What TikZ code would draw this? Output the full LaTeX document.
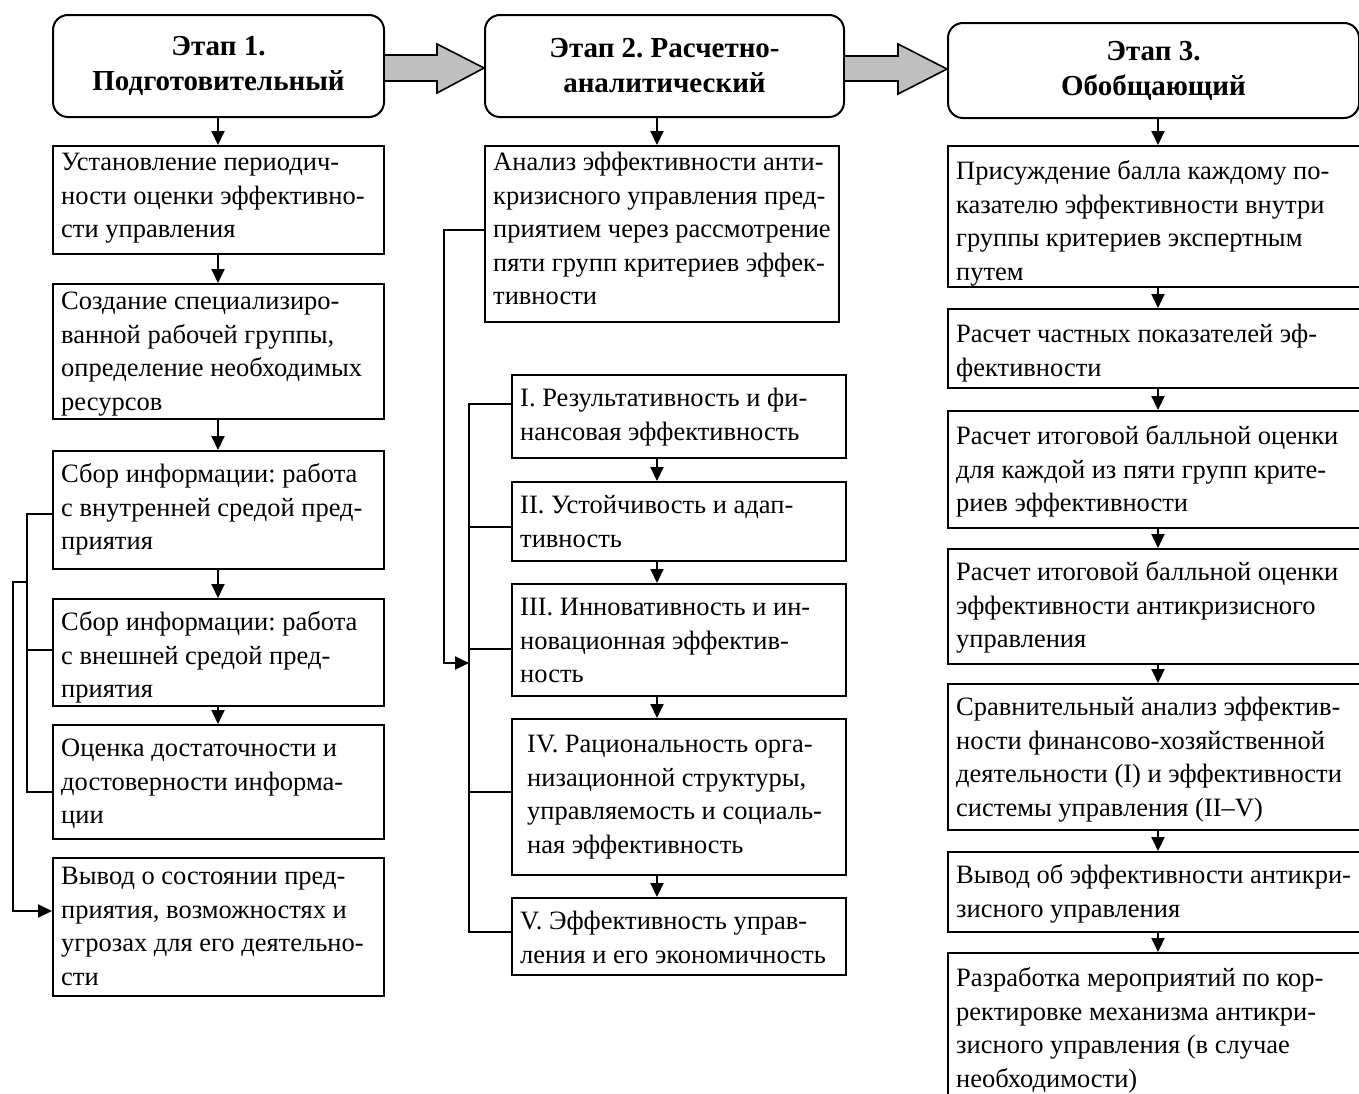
\documentclass[tikz,border=0pt]{standalone}
\usepackage{fontspec}
\setmainfont{Liberation Serif}
\usetikzlibrary{arrows.meta}
\frenchspacing

\tikzset{
  stepbox/.style={draw, line width=2pt, anchor=north west, inner sep=0pt},
  steptext/.style={anchor=north west, inner sep=0pt, align=left, xshift=9pt, yshift=-9pt,
    font=\fontsize{26.5}{33.5}\selectfont},
  stagebox/.style={draw, line width=2pt, rounded corners=15pt, anchor=north west,
    inner sep=0pt, align=center, font=\bfseries\fontsize{29}{35}\selectfont},
  arr/.style={line width=2pt, -{Triangle[length=14pt,width=13pt]}},
  link/.style={line width=2pt},
  blockarrow/.style={draw, line width=1.6pt, fill=gray!50, line join=miter}
}

\newcommand{\stepnode}[6][]{%
  \node[stepbox, minimum width=#4pt, minimum height=#5pt] (#2) at (#3) {};
  \node[steptext, #1] (#2txt) at (#2.north west) {\strut #6};
}

\begin{document}
\begin{tikzpicture}[x=1pt,y=1pt]
  \useasboundingbox (0,0) rectangle (1359,-1093);
  \clip (0,0) rectangle (1359,-1093);

  \node[stagebox, minimum width=331pt, minimum height=102pt] (h1) at (52,-14)
    {Этап 1.\\Подготовительный};
  \node[stagebox, minimum width=359pt, minimum height=102pt] (h2) at (484,-14)
    {Этап 2. Расчетно-\\аналитический};
  \node[stagebox, minimum width=411pt, minimum height=95pt] (h3) at (947,-22)
    {Этап 3.\\Обобщающий};

  \stepnode[yshift=7pt]{a1}{52,-145}{331}{108}{Установление периодич-\\ности оценки эффективно-\\сти управления}
  \stepnode[yshift=6pt]{a2}{52,-283}{331}{135}{Создание специализиро-\\ванной рабочей группы,\\определение необходимых\\ресурсов}
  \stepnode{a3}{52,-450}{331}{118}{Сбор информации: работа\\с внутренней средой пред-\\приятия}
  \stepnode{a4}{52,-598}{331}{107}{Сбор информации: работа\\с внешней средой пред-\\приятия}
  \stepnode{a5}{52,-724}{331}{114}{Оценка достаточности и\\достоверности информа-\\ции}
  \stepnode[yshift=5pt]{a6}{52,-857}{331}{138}{Вывод о состоянии пред-\\приятия, возможностях и\\угрозах для его деятельно-\\сти}

  \stepnode[yshift=7pt]{b1}{484,-145}{354}{176}{Анализ эффективности анти-\\кризисного управления пред-\\приятием через рассмотрение\\пяти групп критериев эффек-\\тивности}
  \stepnode{c1}{511,-374}{334}{83}{I. Результативность и фи-\\нансовая эффективность}
  \stepnode{c2}{511,-481}{334}{79}{II. Устойчивость и адап-\\тивность}
  \stepnode{c3}{511,-583}{334}{112}{III. Инновативность и ин-\\новационная эффектив-\\ность}
  \stepnode[xshift=7pt, yshift=-2pt]{c4}{511,-718}{334}{156}{IV. Рациональность орга-\\низационной структуры,\\управляемость и социаль-\\ная эффективность}
  \stepnode{c5}{511,-897}{334}{77}{V. Эффективность управ-\\ления и его экономичность}

  \stepnode[yshift=-2pt]{d1}{947,-145}{425}{141}{Присуждение балла каждому по-\\казателю эффективности внутри\\группы критериев экспертным\\путем}
  \stepnode[yshift=-2pt]{d2}{947,-308}{425}{79}{Расчет частных показателей эф-\\фективности}
  \stepnode[yshift=-2pt]{d3}{947,-410}{425}{117}{Расчет итоговой балльной оценки\\для каждой из пяти групп крите-\\риев эффективности}
  \stepnode{d4}{947,-548}{425}{115}{Расчет итоговой балльной оценки\\эффективности антикризисного\\управления}
  \stepnode{d5}{947,-683}{425}{146}{Сравнительный анализ эффектив-\\ности финансово-хозяйственной\\деятельности (I) и эффективности\\системы управления (II–V)}
  \stepnode{d6}{947,-851}{425}{80}{Вывод об эффективности антикри-\\зисного управления}
  \stepnode[yshift=-2pt]{d7}{947,-952}{425}{170}{Разработка мероприятий по кор-\\ректировке механизма антикри-\\зисного управления (в случае\\необходимости)}

  \draw[blockarrow] (h1.east |- 0,-55) -- (437,-55) -- (437,-44) -- (h2.west |- 0,-68)
    -- (437,-93) -- (437,-81) -- (h1.east |- 0,-81);
  \draw[blockarrow] (h2.east |- 0,-56) -- (898,-56) -- (898,-44) -- (h3.west |- 0,-69)
    -- (898,-94) -- (898,-81) -- (h2.east |- 0,-81);

  \foreach \p/\q/\c in {h1/a1/218, a1/a2/218, a2/a3/218, a3/a4/218, a4/a5/218,
                        h2/b1/657, c1/c2/657, c2/c3/657, c3/c4/657, c4/c5/657,
                        h3/d1/1158, d1/d2/1158, d2/d3/1158, d3/d4/1158,
                        d4/d5/1158, d5/d6/1158, d6/d7/1158}
    \draw[arr] (\p.south -| \c,0) -- (\q.north -| \c,0);

  \coordinate (j1) at (27,-582);
  \draw[link] ([yshift=-4pt]a3.west) -- ++(-25,0) |- ([yshift=-10pt]a5.west);
  \draw[link] ([yshift=3pt]a4.west) -- ++(-25,0);
  \draw[arr] (j1) -- ++(-14,0) |- ([yshift=16pt]a6.west);

  \coordinate (j2) at (469,-663);
  \draw[link] ([yshift=13pt]c1.west) -- ++(-42,0) |- ([yshift=5pt]c5.west);
  \foreach \n/\s in {c2/-5, c3/-9, c4/5}
    \draw[link] ([yshift=\s pt]\n.west) -- ++(-42,0);
  \draw[arr] ([yshift=4pt]b1.west) -- ++(-40,0) |- (j2);
\end{tikzpicture}
\end{document}
